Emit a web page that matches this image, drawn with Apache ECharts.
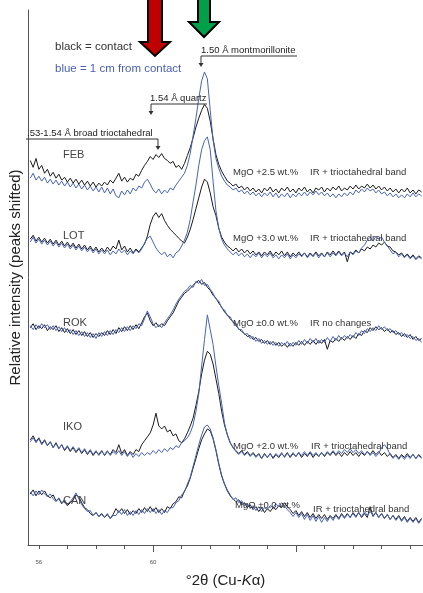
<!DOCTYPE html>
<html>
<head>
<meta charset="utf-8">
<script src="https://cdn.jsdelivr.net/npm/echarts@6/dist/echarts.min.js"></script>
<style>
html,body{margin:0;padding:0;background:#fff;}
#chart{width:423px;height:593px;}
</style>
</head>
<body>
<div id="chart"></div>
<script>
// 2-theta sampling positions (degrees)
var twoTheta = [55.7,55.8,55.9,56.0,56.1,56.2,56.3,56.4,56.5,56.6,56.7,56.8,56.9,57.0,57.1,57.2,57.3,57.4,57.5,57.6,57.7,57.8,57.9,58.0,58.1,58.2,58.3,58.4,58.5,58.6,58.7,58.8,58.9,59.0,59.1,59.2,59.3,59.4,59.5,59.6,59.7,59.8,59.9,60.0,60.1,60.2,60.3,60.4,60.5,60.6,60.7,60.8,60.9,61.0,61.1,61.2,61.3,61.4,61.5,61.6,61.7,61.8,61.9,62.0,62.1,62.2,62.3,62.4,62.5,62.6,62.7,62.8,62.9,63.0,63.1,63.2,63.3,63.4,63.5,63.6,63.7,63.8,63.9,64.0,64.1,64.2,64.3,64.4,64.5,64.6,64.7,64.8,64.9,65.0,65.1,65.2,65.3,65.4,65.5,65.6,65.7,65.8,65.9,66.0,66.1,66.2,66.3,66.4,66.5,66.6,66.7,66.8,66.9,67.0,67.1,67.2,67.3,67.4,67.5,67.6,67.7,67.8,67.9,68.0,68.1,68.2,68.3,68.4,68.5,68.6,68.7,68.8,68.9,69.0,69.1,69.2,69.3,69.4];

// Relative intensities (peaks shifted), black = contact, blue = 1 cm from contact
var febBlack = [391,384,393,382,386,378,382,375,379,373,377,371,374,369,373,368,372,367,371,366,370,365,369,364,368,365,369,366,371,368,373,378,370,374,369,373,371,377,375,381,386,390,395,392,397,394,398,393,391,388,390,384,386,382,388,396,404,414,425,434,442,448,444,431,413,397,387,380,375,370,368,365,367,363,365,361,364,360,363,359,362,358,363,360,364,359,362,358,363,360,364,359,362,358,363,360,364,359,362,358,363,361,364,359,363,360,364,361,365,360,363,361,365,362,366,362,365,363,367,363,366,362,365,361,364,360,363,359,362,358,362,359,363,358,361,357,361,359];
var febBlue = [373,378,371,375,370,374,368,372,367,371,366,370,365,369,364,368,363,367,362,366,361,365,360,364,359,364,358,363,357,362,355,353,360,356,361,357,363,360,365,363,369,372,367,361,358,362,357,361,358,363,361,366,370,374,378,386,398,416,434,454,472,481,474,442,412,393,383,375,370,366,364,361,363,359,361,357,360,356,359,355,358,354,358,355,359,354,358,353,357,354,358,353,357,354,358,355,359,355,359,356,360,356,359,355,358,354,357,353,357,354,358,355,359,356,361,358,362,359,363,360,362,358,361,357,359,355,358,354,357,353,356,353,357,354,358,354,357,355];
var lotBlack = [311,315,309,313,308,312,307,311,306,310,305,309,304,308,303,307,302,306,301,305,300,304,299,303,298,302,298,303,299,304,301,310,300,304,298,302,297,301,298,302,306,314,326,334,338,333,337,330,325,321,318,315,312,309,307,313,321,331,342,353,364,372,369,358,344,335,322,313,308,304,302,299,302,298,301,297,300,296,299,295,298,294,298,295,299,294,298,295,299,294,298,293,297,294,298,294,297,293,297,294,298,294,297,293,298,295,299,295,299,295,298,288,298,296,300,297,301,299,303,301,305,303,307,305,308,304,303,299,298,295,297,293,296,292,295,291,294,292];
var lotBlue = [308,313,307,311,306,310,305,309,304,308,303,307,302,306,301,305,300,304,299,303,298,302,297,301,296,300,296,300,295,299,296,301,297,300,295,299,296,300,297,301,307,312,314,308,302,298,295,298,293,296,292,297,299,304,310,318,331,349,366,386,402,411,415,402,370,340,322,311,305,301,298,295,298,294,297,293,296,292,296,293,297,292,296,293,297,292,295,291,295,292,296,291,295,292,296,293,297,292,296,293,297,292,296,293,297,293,297,294,298,294,297,293,298,295,299,297,302,305,310,313,309,314,311,313,308,304,300,296,298,293,296,292,295,291,294,290,293,291];
var rokBlack = [221,225,219,223,220,224,218,222,219,223,217,221,216,220,215,219,214,218,213,217,212,216,211,215,212,216,213,218,214,219,215,221,217,222,218,223,219,224,220,226,232,236,228,223,226,222,225,223,228,232,236,242,248,252,256,258,261,264,267,269,265,267,262,259,254,251,246,242,237,234,230,227,223,220,217,215,212,213,209,211,207,209,205,208,204,207,203,206,202,205,201,205,202,206,203,207,203,207,204,208,204,208,205,209,199,208,206,210,207,211,208,212,209,213,210,215,213,218,216,221,218,222,219,221,217,220,216,218,214,216,212,215,211,214,209,212,208,210];
var rokBlue = [223,219,224,220,225,221,224,219,223,218,222,217,221,216,219,214,218,213,217,212,216,211,215,210,216,212,217,213,218,214,219,216,221,217,222,218,223,220,225,223,230,238,232,225,221,224,221,226,230,234,239,245,250,254,258,260,264,262,268,266,270,264,265,260,256,250,248,241,239,233,232,226,225,219,219,214,215,210,212,207,210,205,208,204,207,203,206,202,206,203,207,202,206,203,208,204,209,205,210,206,210,205,209,206,211,207,212,208,213,209,213,210,214,211,216,213,218,215,220,217,221,218,223,219,222,218,220,216,218,214,216,212,214,210,212,208,210,206];
var ikoBlack = [107,111,105,109,103,107,101,105,99,104,98,102,96,100,95,99,94,98,93,97,92,96,91,95,92,96,91,95,92,97,94,102,93,97,91,95,92,97,95,102,106,110,114,122,134,121,118,121,115,117,111,113,106,104,108,114,121,129,142,156,174,188,197,194,184,169,154,136,122,112,104,99,96,93,96,92,95,91,94,90,93,88,93,89,93,88,92,89,93,90,94,89,93,90,94,89,93,90,94,89,93,90,94,90,94,91,95,91,94,90,94,91,95,91,94,90,94,91,95,92,96,92,95,91,94,90,93,89,92,88,92,89,93,89,92,88,92,89];
var ikoBlue = [105,109,104,108,102,106,101,105,99,103,98,102,97,101,96,100,95,99,94,98,93,97,92,96,91,95,92,96,91,95,92,96,91,95,90,94,89,93,90,94,91,94,92,96,93,97,94,98,95,99,97,101,99,104,106,109,114,122,136,154,182,209,234,219,204,182,162,144,124,112,104,99,95,92,95,91,94,90,93,89,92,88,92,89,93,89,93,90,94,89,93,90,94,90,94,91,95,91,95,91,94,90,94,91,95,92,96,92,96,93,97,94,98,94,97,93,96,92,95,91,94,90,93,99,102,98,92,88,91,87,91,87,91,88,92,88,91,88];
var canBlack = [52,56,50,55,51,55,50,48,51,45,47,42,45,40,43,46,51,49,43,38,36,32,30,33,29,32,28,31,27,31,37,33,37,32,36,31,35,32,37,33,38,34,39,34,38,33,37,33,39,37,42,44,49,48,55,60,68,78,88,98,107,113,118,116,108,96,82,70,62,55,50,47,44,46,41,43,38,41,36,39,34,38,33,37,34,38,36,40,38,43,39,36,32,35,30,34,29,33,28,32,27,31,27,31,26,30,27,31,27,32,28,32,28,33,29,33,28,32,28,39,29,33,28,32,27,31,26,30,26,30,25,29,24,28,24,28,23,27];
var canBlue = [54,50,55,51,56,52,49,52,47,44,48,43,46,41,44,48,53,47,41,37,34,35,30,33,29,31,28,32,27,30,30,35,31,36,30,34,30,35,31,36,32,37,33,37,32,36,31,35,33,38,38,43,45,51,54,62,69,80,91,102,112,120,122,118,109,97,83,71,62,56,51,46,48,43,45,40,42,37,40,35,39,34,38,36,40,38,42,39,43,40,36,33,29,33,28,32,26,31,25,30,24,29,23,28,24,29,25,30,26,31,27,31,28,32,28,33,29,34,30,34,30,33,28,32,27,31,26,30,25,29,24,28,23,27,23,27,22,26];

// Axis ticks and labels
var minorTickValues = [56,57,58,59,60,61,62,63,64,65,66,67,68,69];
var majorTickValues = [60,65];
var tickLabelValues = [56,60];

// Sample names and annotations
var sampleNames = ['FEB','LOT','ROK','IKO','CAN'];
var mgoNotes = ['MgO +2.5 wt.%','MgO +3.0 wt.%','MgO \u00b10.0 wt.%','MgO +2.0 wt.%','MgO \u00b10.0 wt.%'];
var irNotes = ['IR + trioctahedral band','IR + trioctahedral band','IR no changes','IR + trioctahedral band','IR + trioctahedral band'];

var BLACK = '#1a1a1a', BLUE = '#4862b8';
var FONT = '"Liberation Sans", Arial, sans-serif';

function pairs(ys){ return twoTheta.map(function(x,i){ return [x, ys[i]]; }); }
function line(name, ys, color){
  return {name:name, type:'line', data:pairs(ys), showSymbol:false, symbol:'none',
    lineStyle:{color:color, width:1}, itemStyle:{color:color}, silent:true, z:2};
}

var labelY = [155,236,323,427,501];
var mgoPos = [[233,172],[233,238],[233,323],[233,446],[235,505]];
var irPos = [[310,172],[310,238],[310,323],[311,446],[313,509]];

var graphics = [];
// arrows
graphics.push({type:'polygon', shape:{points:[[148,-2],[162,-2],[162,42],[170,42],[155,56],[140,42],[148,42]]}, style:{fill:'#c00000', stroke:'#000', lineWidth:2}, z:10});
graphics.push({type:'polygon', shape:{points:[[198,-2],[210,-2],[210,22],[219,22],[204,37],[189,22],[198,22]]}, style:{fill:'#00a04a', stroke:'#000', lineWidth:2}, z:10});
// legend texts
graphics.push({type:'text', x:55, y:47, style:{text:'black = contact', fill:'#333', font:'11.5px '+FONT, verticalAlign:'middle'}});
graphics.push({type:'text', x:55, y:69, style:{text:'blue = 1 cm from contact', fill:'#4a5fb0', font:'11.5px '+FONT, verticalAlign:'middle'}});
// reflection annotations with brackets
var notes = [
  {t:'1.50 \u00c5 montmorillonite', tx:201, ty:50, pts:[[297,56],[201,56],[201,64]], ax:201, ay:64},
  {t:'1.54 \u00c5 quartz', tx:150, ty:98, pts:[[207,104],[151,104],[151,112]], ax:151, ay:112},
  {t:'.53-1.54 \u00c5 broad trioctahedral', tx:27, ty:133, pts:[[26,139],[158,139],[158,147]], ax:158, ay:147}
];
notes.forEach(function(n){
  graphics.push({type:'text', x:n.tx, y:n.ty, style:{text:n.t, fill:'#222', font:'9.5px '+FONT, verticalAlign:'middle'}, z:5});
  graphics.push({type:'polyline', shape:{points:n.pts}, style:{stroke:'#333', lineWidth:1, fill:null}, z:5});
  graphics.push({type:'polygon', shape:{points:[[n.ax-2.5,n.ay-1],[n.ax+2.5,n.ay-1],[n.ax,n.ay+3]]}, style:{fill:'#333'}, z:5});
});
sampleNames.forEach(function(s,i){
  graphics.push({type:'text', x:63, y:labelY[i], style:{text:s, fill:'#444', font:'11px '+FONT, verticalAlign:'middle'}, z:5});
  graphics.push({type:'text', x:mgoPos[i][0], y:mgoPos[i][1], style:{text:mgoNotes[i], fill:'#333', font:'9.5px '+FONT, verticalAlign:'middle'}, z:5});
  graphics.push({type:'text', x:irPos[i][0], y:irPos[i][1], style:{text:irNotes[i], fill:'#333', font:'9.5px '+FONT, verticalAlign:'middle'}, z:5});
});

var chart = echarts.init(document.getElementById('chart'), null, {renderer:'canvas'});
chart.setOption({
  animation:false,
  backgroundColor:'#fff',
  grid:{left:26, right:0, top:10, bottom:39, containLabel:false},
  xAxis:[{
    type:'value', min:55.62, max:69.45, position:'bottom',
    name:'\u00b02\u03b8 (Cu-{i|K}\u03b1)', nameLocation:'middle', nameGap:28,
    nameTextStyle:{fontFamily:FONT, fontSize:15, color:'#222', verticalAlign:'top',
      rich:{i:{fontStyle:'italic', fontFamily:FONT, fontSize:15, color:'#222'}}},
    axisLine:{lineStyle:{color:'#555', width:1}},
    axisTick:{show:true, customValues:minorTickValues, length:4, lineStyle:{color:'#555'}},
    axisLabel:{customValues:tickLabelValues, fontSize:6, color:'#555', margin:14, fontFamily:FONT},
    splitLine:{show:false}
  },{
    type:'value', min:55.62, max:69.45, position:'bottom', gridIndex:0,
    axisLine:{show:false},
    axisTick:{show:true, customValues:majorTickValues, length:7, lineStyle:{color:'#555'}},
    axisLabel:{show:false}, splitLine:{show:false}
  }],
  yAxis:{
    type:'value', min:0, max:544,
    name:'Relative intensity (peaks shifted)', nameLocation:'middle', nameGap:5,
    nameTextStyle:{fontFamily:FONT, fontSize:15, color:'#222'},
    axisLine:{show:true, lineStyle:{color:'#555', width:1}},
    axisTick:{show:false}, axisLabel:{show:false}, splitLine:{show:false}
  },
  series:[
    line('FEB contact', febBlack, BLACK), line('FEB 1 cm', febBlue, BLUE),
    line('LOT contact', lotBlack, BLACK), line('LOT 1 cm', lotBlue, BLUE),
    line('ROK contact', rokBlack, BLACK), line('ROK 1 cm', rokBlue, BLUE),
    line('IKO contact', ikoBlack, BLACK), line('IKO 1 cm', ikoBlue, BLUE),
    line('CAN contact', canBlack, BLACK), line('CAN 1 cm', canBlue, BLUE)
  ],
  graphic:graphics
});
</script>
</body>
</html>
